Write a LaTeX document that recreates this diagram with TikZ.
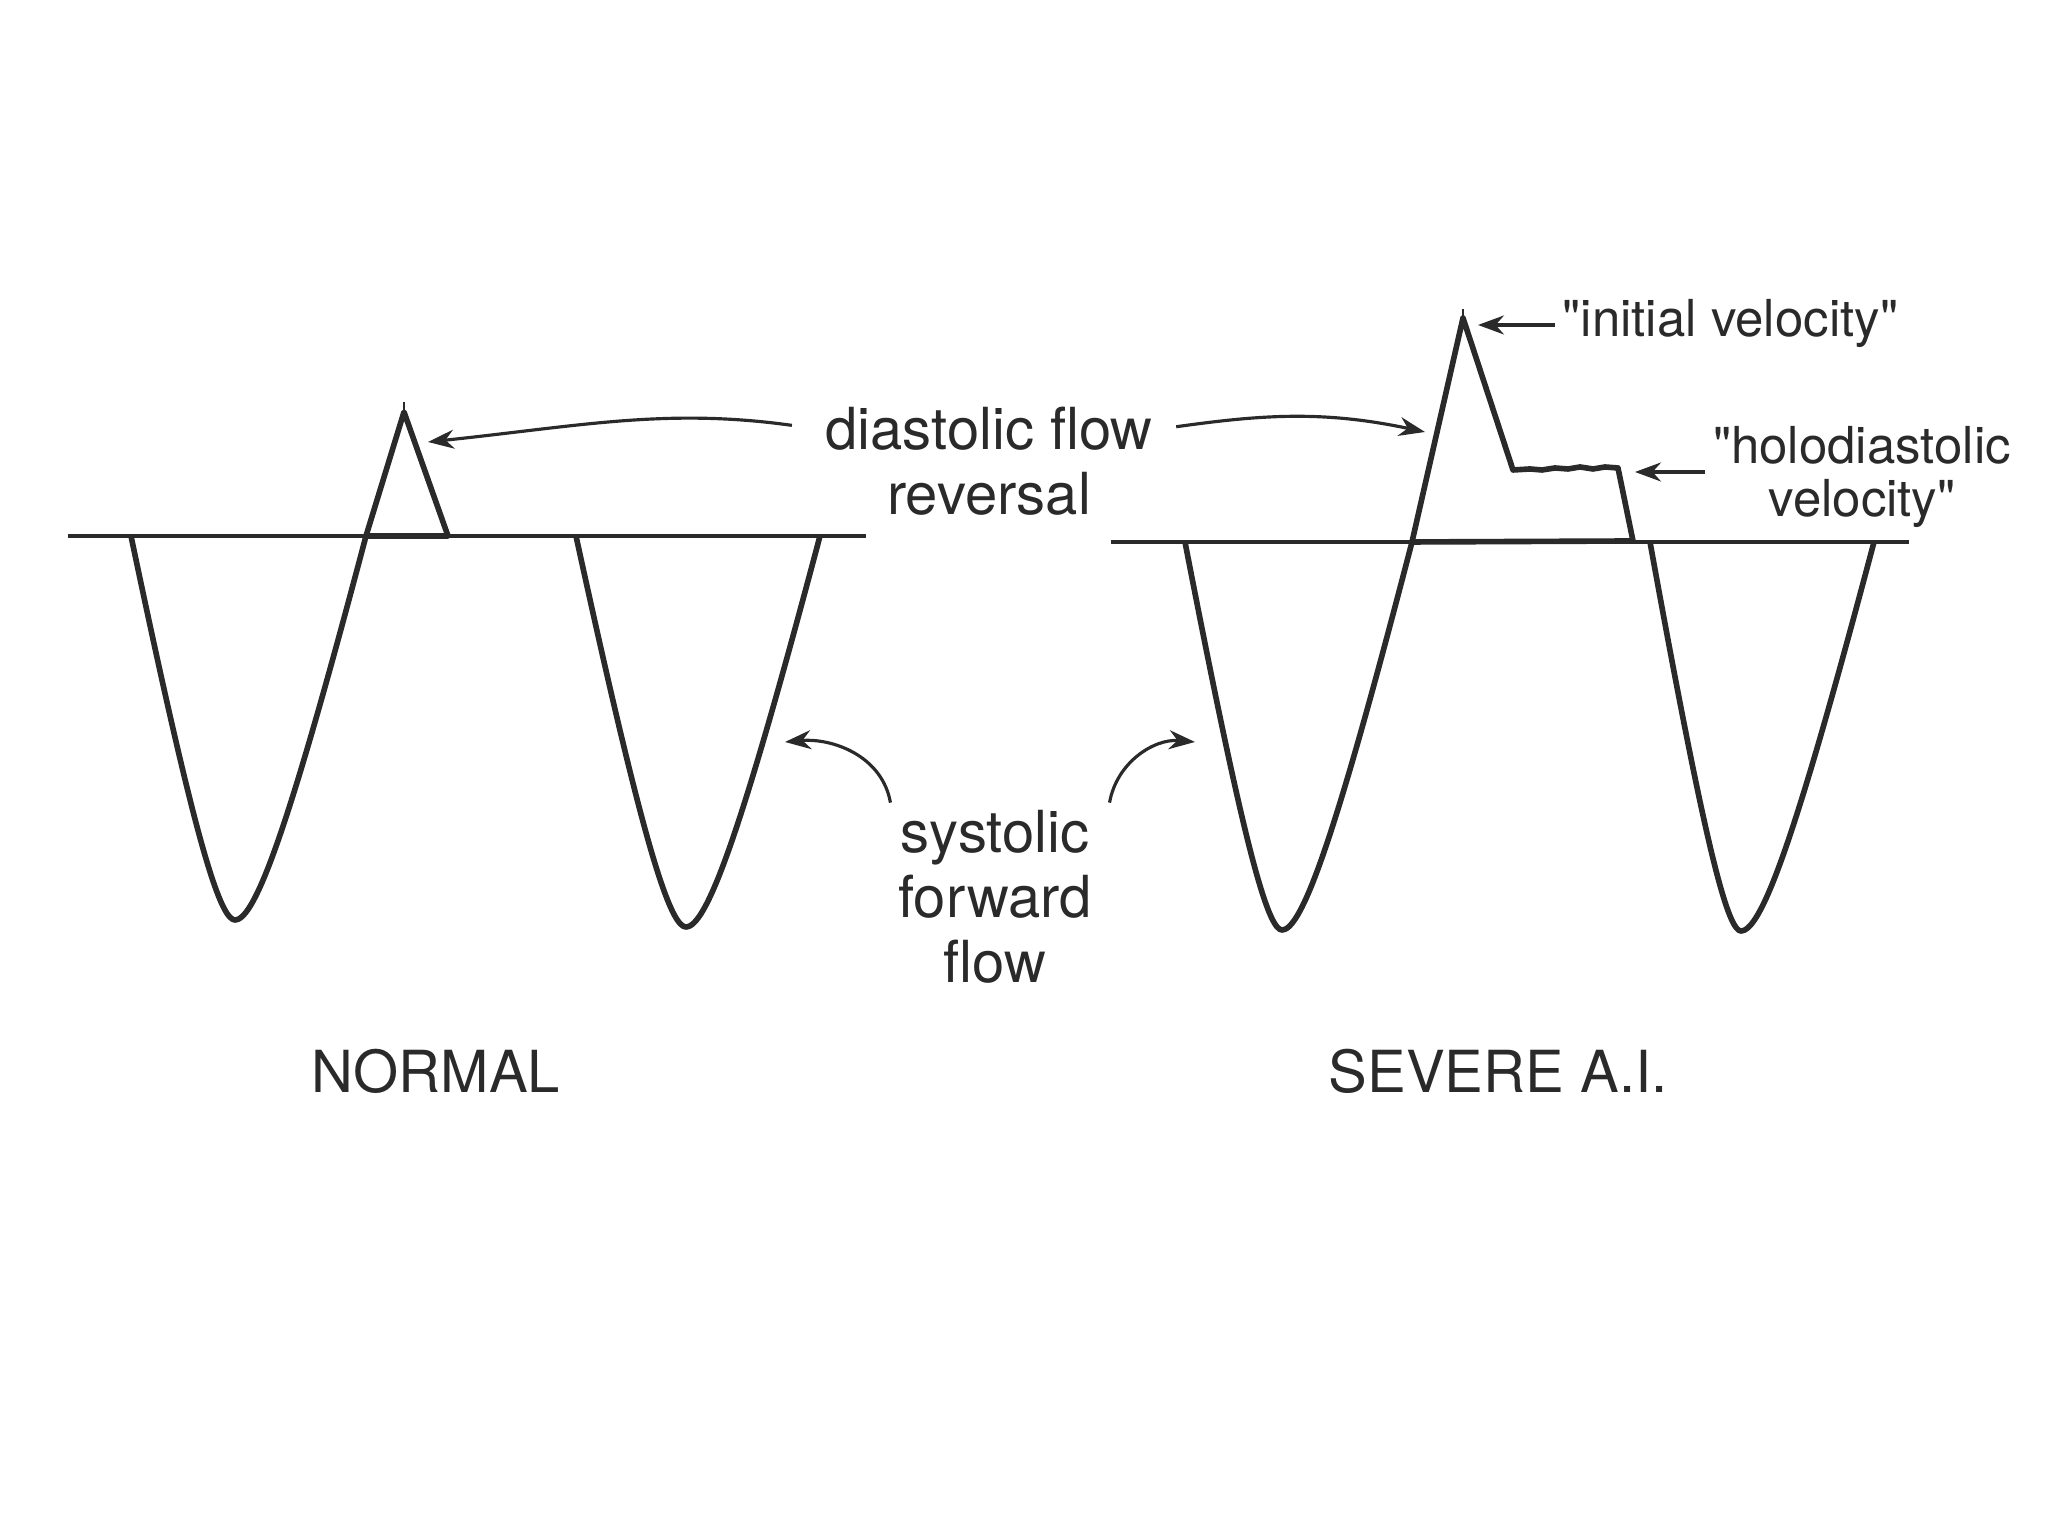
\documentclass[tikz,border=0pt]{standalone}
\usepackage{fontspec}
\setmainfont{TeX Gyre Heros}
\usepackage{tikz}
\usetikzlibrary{arrows.meta,positioning,calc}
\definecolor{ink}{HTML}{2A2A2A}

\begin{document}
\begin{tikzpicture}[ink,
  trace/.style={line width=1.6pt,line join=round},
  axis/.style={line width=1pt},
  lbl/.style={font=\fontsize{16.5}{18.5}\selectfont,align=center,inner sep=2pt},
  qlbl/.style={font=\fontsize{14.5}{15}\selectfont,align=center,inner sep=2pt},
  ptr/.style={line width=0.9pt,-{Stealth[length=2.6mm,width=1.9mm]}}]
  \useasboundingbox (0,0) rectangle (20.48,15.36);
  % zero lines
  \draw[axis] (0.68,10) -- (8.66,10);
  \draw[axis] (11.11,9.94) -- (19.09,9.94);
  % systolic forward flow (trough x / trough y / left width / right width / zero line)
  \foreach \xt/\yt/\wl/\wr/\yb in {2.35/6.16/1.04/1.31/10, 6.86/6.09/1.10/1.34/10,
      12.82/6.06/0.97/1.30/9.94, 17.41/6.05/0.91/1.33/9.94}{
    \draw[trace] plot[domain=-1:0,samples=40,smooth] ({\xt+\wl*\x},{\yt+(\yb-\yt)*\x*\x/(0.29-0.71*\x)})
      -- plot[domain=0:1,samples=40,smooth] ({\xt+\wr*\x},{\yt+(\yb-\yt)*\x*\x/(0.29+0.71*\x)});}
  % diastolic reversal, normal
  \coordinate (nA) at (3.66,10);
  \coordinate (nP) at (4.04,11.24);
  \coordinate (nF) at (4.48,10);
  \draw[trace] (nA) -- (nP) -- (nF) -- cycle;
  \draw[line width=0.7pt] (nP) -- ++(0,0.1);
  % diastolic reversal, severe
  \coordinate (sA) at (14.12,9.94);
  \coordinate (sP) at (14.63,12.18);
  \coordinate (sH) at (15.13,10.66);
  \coordinate (sE) at (16.18,10.68);
  \coordinate (sF) at (16.33,9.95);
  \draw[trace] (sA) -- (sP) -- (sH) -- (15.30,10.67) -- (15.42,10.66) -- (15.55,10.68)
    -- (15.68,10.67) -- (15.80,10.69) -- (15.93,10.67) -- (16.05,10.69) -- (sE) -- (sF) -- cycle;
  \draw[line width=0.7pt] (sP) -- ++(0,0.09);

  % labels
  \node[lbl] (dia) at (9.89,11.07) {diastolic flow};
  \node[lbl] (rev) at (9.89,10.42) {reversal};
  \node[lbl] (sys) at (9.95,6.39) {systolic\\forward\\flow};
  \node[lbl] (nrm) at (4.36,4.65) {NORMAL};
  \node[lbl] (sev) at (14.98,4.65) {SEVERE A.I.};
  \node[qlbl,anchor=west] (ini) at (15.55,12.12) {\textquotedbl initial velocity\textquotedbl};
  \node[qlbl] (hol) at (18.62,10.59) {\textquotedbl holodiastolic\\velocity\textquotedbl};

  % pointers
  \coordinate (nTip) at (4.28,10.94);
  \coordinate (sTip) at (14.25,11.04);
  \coordinate (fTipL) at (7.85,7.94);
  \coordinate (fTipR) at (11.95,7.94);
  \coordinate (iTip) at (14.78,12.11);
  \coordinate (hTip) at (16.35,10.64);
  \draw[ptr,shorten <=2.6mm] (dia.west) to[out=172,in=6] (nTip);
  \draw[ptr,shorten <=1.6mm] (dia.east) to[out=8,in=168] (sTip);
  \draw[ptr] (sys.north west) to[out=100,in=5] (fTipL);
  \draw[ptr] ([xshift=1mm]sys.north east) to[out=80,in=175] (fTipR);
  \draw[ptr] (iTip -| ini.west) -- (iTip);
  \draw[ptr] (hTip -| hol.west) -- (hTip);
\end{tikzpicture}
\end{document}
